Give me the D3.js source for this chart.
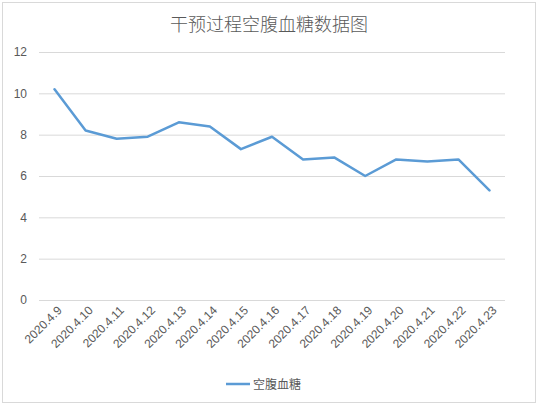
<!DOCTYPE html>
<html lang="zh">
<head>
<meta charset="utf-8">
<title>干预过程空腹血糖数据图</title>
<script src="https://d3js.org/d3.v7.min.js"></script>
<style>
  body { margin: 0; background: #fff; }
  svg { display: block; font-family: "Noto Sans CJK SC", "Noto Sans", sans-serif; }
  .tick text { fill: #595959; }
</style>
</head>
<body>
<svg id="chart" width="538" height="405"></svg>
<script>
const dates = ["2020.4.9", "2020.4.10", "2020.4.11", "2020.4.12", "2020.4.13", "2020.4.14",
  "2020.4.15", "2020.4.16", "2020.4.17", "2020.4.18", "2020.4.19", "2020.4.20",
  "2020.4.21", "2020.4.22", "2020.4.23"];
const glucose = [10.2, 8.2, 7.8, 7.9, 8.6, 8.4, 7.3, 7.9, 6.8, 6.9, 6.0, 6.8, 6.7, 6.8, 5.3];
const yTicks = [0, 2, 4, 6, 8, 10, 12];
const seriesName = "空腹血糖";
const title = "干预过程空腹血糖数据图";

const svg = d3.select("#chart");
const margin = { left: 39, right: 33, top: 52, bottom: 105 };
const W = 538, H = 405;

// outer frame
svg.append("rect")
  .attr("x", 2.5).attr("y", 2.5)
  .attr("width", W - 5).attr("height", H - 5)
  .attr("fill", "#fff").attr("stroke", "#d9d9d9");

svg.append("text")
  .attr("x", W / 2).attr("y", 31)
  .attr("text-anchor", "middle")
  .attr("font-size", 18)
  .attr("font-weight", 300)
  .attr("fill", "#595959")
  .text(title);

const x = d3.scaleBand().domain(dates).range([margin.left, W - margin.right]);
const y = d3.scaleLinear().domain([0, 12]).range([H - margin.bottom, margin.top]);

// gridlines + y labels
const yAxis = svg.append("g")
  .attr("transform", `translate(${margin.left},0)`)
  .call(d3.axisLeft(y).tickValues(yTicks).tickSize(-(W - margin.left - margin.right)).tickPadding(12));
yAxis.select(".domain").remove();
yAxis.selectAll(".tick line").attr("stroke", "#d9d9d9");
yAxis.selectAll(".tick text").attr("font-size", 12);

// x labels
const xAxis = svg.append("g")
  .attr("transform", `translate(0,${H - margin.bottom})`)
  .call(d3.axisBottom(x).tickSize(0));
xAxis.select(".domain").remove();
xAxis.selectAll(".tick text")
  .attr("font-size", 12)
  .attr("text-anchor", "end")
  .attr("dx", 0).attr("dy", 0)
  .attr("transform", "translate(6,9) rotate(-45)");

const line = d3.line()
  .x((d, i) => x(dates[i]) + x.bandwidth() / 2)
  .y(d => y(d));

svg.append("path")
  .datum(glucose)
  .attr("fill", "none")
  .attr("stroke", "#5b9bd5")
  .attr("stroke-width", 2.5)
  .attr("stroke-linejoin", "round")
  .attr("stroke-linecap", "round")
  .attr("d", line);

// legend
const lg = svg.append("g").attr("transform", "translate(226,384)");
lg.append("line").attr("x1", 0).attr("x2", 24).attr("y1", 0).attr("y2", 0)
  .attr("stroke", "#5b9bd5").attr("stroke-width", 2.5);
lg.append("text").attr("x", 27).attr("y", 4.5)
  .attr("font-size", 12).attr("fill", "#595959")
  .text(seriesName);
</script>
</body>
</html>
